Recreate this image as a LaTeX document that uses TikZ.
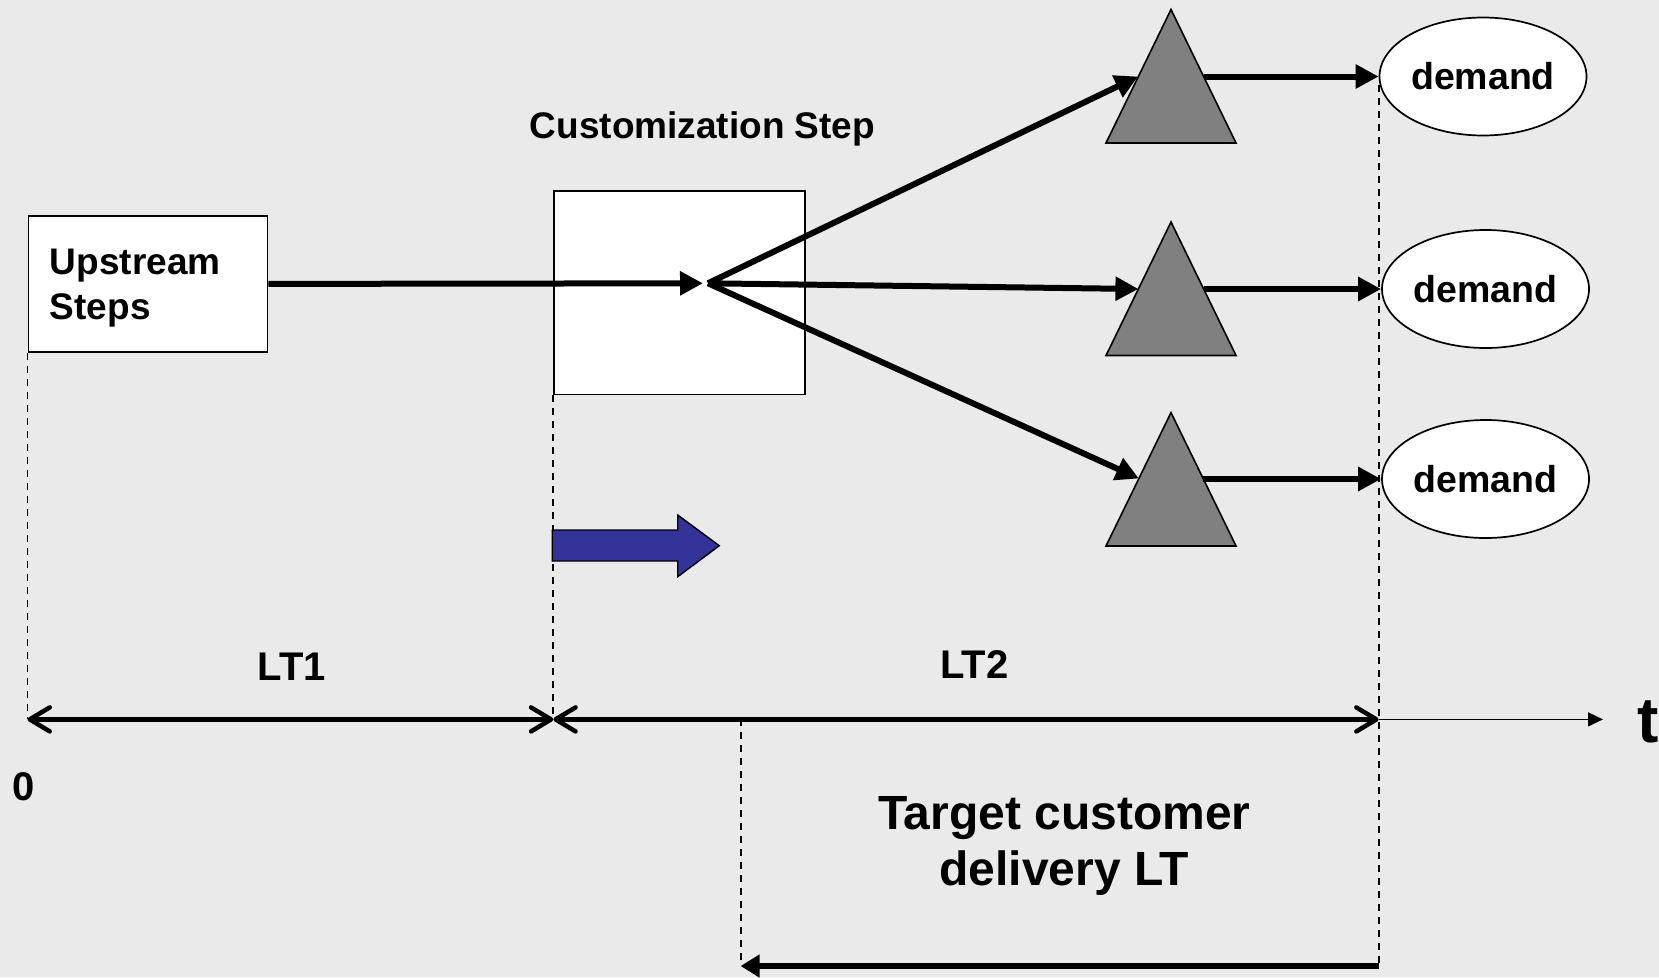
\documentclass[tikz,border=0pt]{standalone}
\usepackage{fontspec}
\setmainfont{Liberation Sans}
\usetikzlibrary{arrows.meta,shapes.geometric}
\definecolor{bg}{HTML}{EAEAEA}
\definecolor{tri}{HTML}{808080}
\definecolor{navy}{HTML}{333399}
\begin{document}
\begin{tikzpicture}[x=1pt,y=-1pt,
  flow/.style={line width=6pt,-{Triangle[length=23pt,width=23pt]}},
  span/.style={line width=4.5pt,{Straight Barb[length=20pt,width=24pt,round]}-{Straight Barb[length=20pt,width=24pt,round]}},
  guide/.style={dash pattern=on 7pt off 6pt, line width=1.8pt},
  box/.style={draw, fill=white, line width=1.7pt, inner sep=0pt},
  dem/.style={ellipse, draw, fill=white, line width=1.7pt, minimum width=207pt, minimum height=118pt, inner sep=0pt, font=\fontsize{37.5}{44}\selectfont\bfseries},
  lbl/.style={font=\fontsize{40}{48}\selectfont\bfseries, inner sep=0pt},
  trishape/.style={fill=tri, draw=black, line width=1.6pt, line join=miter}
]
\fill[bg] (0,0) rectangle (1659,977);
\useasboundingbox (0,0) rectangle (1659,977);

% coordinates
\coordinate (hub) at (708,283.3);
\coordinate (t0) at (27.5,719.4);
\coordinate (t1) at (553.3,719.4);
\coordinate (t2) at (1378.6,719.4);
\coordinate (tend) at (1603,719.4);
\coordinate (g2top) at (1378.6,85);
\coordinate (g2bot) at (1378.6,966);
\coordinate (g3top) at (740.6,719.4);
\coordinate (g3bot) at (740.6,966);
\coordinate (b0) at (1378.6,966);
\coordinate (b1) at (740.6,966);

% boxes
\node[box, anchor=north west, minimum width=239.1pt, minimum height=136.5pt] (up) at (27.5,214.8) {};
\node[anchor=west, align=left, inner sep=0pt, font=\fontsize{37}{45.5}\selectfont\bfseries] (uptext) at (49.7,288) {Upstream\\Steps};
\node[box, anchor=north west, minimum width=250.8pt, minimum height=203.2pt] (cust) at (553.3,190.4) {};
\node[font=\fontsize{37}{44}\selectfont\bfseries, inner sep=0pt] (custlbl) at (702.5,129) {Customization Step};

% dashed guides
\draw[guide] (up.south west) -- (t0);
\draw[guide] (cust.south west) -- (t1);
\draw[guide] (g2top) -- (g2bot);
\draw[guide] (g3top) -- (g3bot);

% demand ellipses
\node[dem] (d1) at (1483,76.5) {demand};
\node[dem] (d2) at (1485.5,289) {demand};
\node[dem] (d3) at (1485.5,479) {demand};

% triangles
\draw[trishape] (1171,9.5) -- (1236,143) -- (1106,143) -- cycle;
\draw[trishape] (1171,222) -- (1236,355.5) -- (1106,355.5) -- cycle;
\draw[trishape] (1171,412.6) -- (1236,546) -- (1106,546) -- cycle;
\coordinate (tri1in) at (1138.1,76.5);
\coordinate (tri1out) at (1203.9,76.5);
\coordinate (tri2in) at (1138.4,289);
\coordinate (tri2out) at (1203.6,289);
\coordinate (tri3in) at (1138.9,478.5);
\coordinate (tri3out) at (1203.1,479);

% flow arrows
\draw[flow, shorten >=5pt] (up.east) -- (hub);
\draw[flow] (hub) -- (tri1in);
\draw[flow] (hub) -- (tri2in);
\draw[flow] (hub) -- (tri3in);
\draw[flow] (tri1out) -- (d1.west);
\draw[flow] (tri2out) -- (d2.west);
\draw[flow] (tri3out) -- (d3.west);

% blue arrow
\draw[fill=navy, draw=black, line width=1.4pt] (552.3,530) -- (677.7,530) -- (677.7,515) -- (719.3,545.7)
  -- (677.7,576.7) -- (677.7,561) -- (552.3,561) -- cycle;

% timeline
\draw[span] (t0) -- (t1);
\draw[span] (t1) -- (t2);
\draw[line width=1.4pt,-{Triangle[length=15pt,width=14pt]}] (t2) -- (tend);
\node[font=\fontsize{64}{70}\selectfont\bfseries, inner sep=0pt] (tl) at (1648,722) {t};
\node[lbl] (lt1) at (292,666.5) {LT1};
\node[lbl] (lt2) at (974.4,664.4) {LT2};
\node[lbl] (zero) at (23.3,787) {0};
\node[font=\fontsize{48}{56}\selectfont\bfseries, align=center, inner sep=0pt] (target) at (1064.3,846) {Target customer\\delivery LT};

% bottom arrow
\draw[line width=6pt,-{Triangle[length=19pt,width=22pt]}] (b0) -- (b1);
\end{tikzpicture}
\end{document}
